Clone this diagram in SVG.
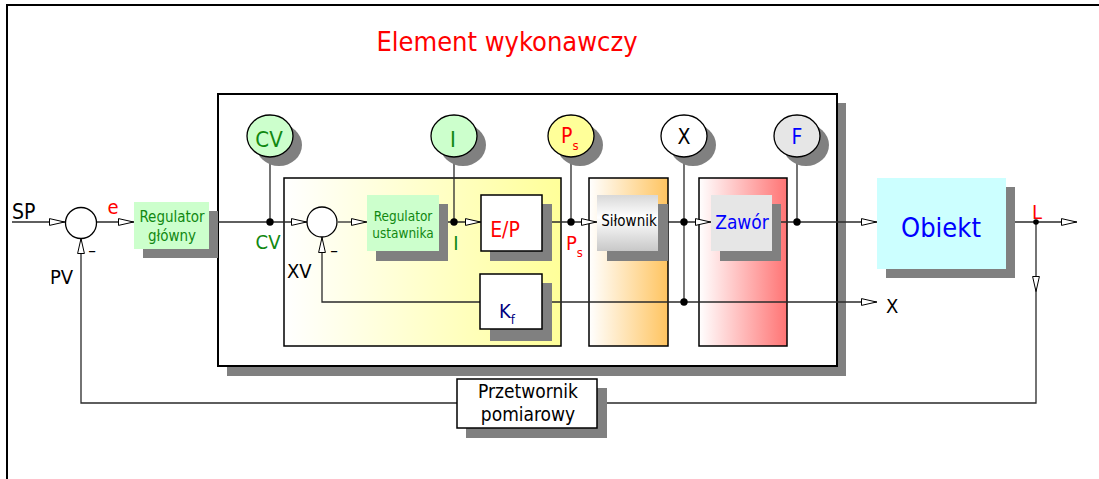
<svg xmlns="http://www.w3.org/2000/svg" width="1099" height="479" viewBox="0 0 1099 479">
  <style>
    text { font-family: "DejaVu Sans Condensed", "DejaVu Sans", sans-serif; }
    .frame { fill: none; stroke: #000; stroke-width: 2; }
    .box { stroke: #000; stroke-width: 1.5; }
    .shadow { fill: #808080; stroke: none; }
    .wire { fill: none; stroke: #2a2a2a; stroke-width: 1.3; }
    .dot { fill: #000; }
    .blk { fill: #000; }
    .red { fill: #ff0000; }
    .grn { fill: #118811; }
    .blu { fill: #0000ff; }
    .navy { fill: #000080; }
    .mid { text-anchor: middle; }
  </style>
  <defs>
    <linearGradient id="gYellow" x1="0" y1="0" x2="1" y2="0">
      <stop offset="0" stop-color="#ffffff"/>
      <stop offset="1" stop-color="#ffff99"/>
    </linearGradient>
    <linearGradient id="gOrange" x1="0" y1="0" x2="1" y2="0">
      <stop offset="0" stop-color="#ffffff"/>
      <stop offset="1" stop-color="#ffc460"/>
    </linearGradient>
    <linearGradient id="gRed" x1="0" y1="0" x2="1" y2="0">
      <stop offset="0" stop-color="#ffffff"/>
      <stop offset="1" stop-color="#ff7474"/>
    </linearGradient>
    <linearGradient id="gGrey" x1="0" y1="0" x2="0" y2="1">
      <stop offset="0" stop-color="#d8d8d8"/>
      <stop offset="0.4" stop-color="#ffffff"/>
      <stop offset="1" stop-color="#c8c8c8"/>
    </linearGradient>
    <marker id="arr" viewBox="0 0 16 8" refX="16" refY="4" markerWidth="16" markerHeight="8" markerUnits="userSpaceOnUse" orient="auto">
      <path d="M0.5,0.6 L15.5,4 L0.5,7.4 Z" fill="#fff" stroke="#000" stroke-width="1"/>
    </marker>
  </defs>

  <!-- page frame -->
  <path class="frame" d="M7,479 V5 H1099"/>

  <!-- title -->
  <text x="507" y="51" font-size="27" class="red mid">Element wykonawczy</text>

  <!-- actuator enclosure -->
  <g id="element-wykonawczy">
    <rect class="shadow" x="227" y="103" width="619" height="273"/>
    <rect x="218" y="94" width="619" height="272" fill="#fff" stroke="#000" stroke-width="2"/>
  </g>

  <!-- sub-assemblies -->
  <g id="pozycjoner">
    <rect class="box" x="284" y="178" width="277" height="168" fill="url(#gYellow)"/>
  </g>
  <g id="silownik-obudowa">
    <rect class="box" x="589" y="178" width="79" height="168" fill="url(#gOrange)"/>
  </g>
  <g id="zawor-obudowa">
    <rect class="box" x="699" y="178" width="88" height="168" fill="url(#gRed)"/>
  </g>

  <!-- connectors -->
  <g id="connectors">
    <path class="wire" d="M12,222 H65" marker-end="url(#arr)"/>
    <path class="wire" d="M97,222 H134" marker-end="url(#arr)"/>
    <path class="wire" d="M210,222 H307" marker-end="url(#arr)"/>
    <path class="wire" d="M270,157 V222"/>
    <path class="wire" d="M338,222 H367" marker-end="url(#arr)"/>
    <path class="wire" d="M440,222 H481" marker-end="url(#arr)"/>
    <path class="wire" d="M454,157 V222"/>
    <path class="wire" d="M543,222 H597" marker-end="url(#arr)"/>
    <path class="wire" d="M571,157 V222"/>
    <path class="wire" d="M660,222 H711" marker-end="url(#arr)"/>
    <path class="wire" d="M684,157 V302"/>
    <path class="wire" d="M773,222 H877" marker-end="url(#arr)"/>
    <path class="wire" d="M797,157 V222"/>
    <path class="wire" d="M1007,222 H1077" marker-end="url(#arr)"/>
    <path class="wire" d="M1036,222 V292" marker-end="url(#arr)"/>
    <path class="wire" d="M1036,292 V403 H600"/>
    <path class="wire" d="M457,403 H81 V238" marker-end="url(#arr)"/>
    <path class="wire" d="M481,302 H322 V237" marker-end="url(#arr)"/>
    <path class="wire" d="M543,302 H877" marker-end="url(#arr)"/>
    <circle class="dot" cx="270" cy="222" r="3.7"/>
    <circle class="dot" cx="454" cy="222" r="3.7"/>
    <circle class="dot" cx="571" cy="222" r="3.7"/>
    <circle class="dot" cx="684" cy="222" r="3.7"/>
    <circle class="dot" cx="684" cy="302" r="3.7"/>
    <circle class="dot" cx="797" cy="222" r="3.7"/>
    <circle class="dot" cx="1036" cy="222" r="2.8"/>
  </g>

  <!-- summing junctions -->
  <g id="sum-glowny">
    <circle cx="81" cy="223" r="15.5" fill="#fff" stroke="#000" stroke-width="1.3"/>
    <text x="92" y="256" font-size="17" class="blk mid">–</text>
  </g>
  <g id="sum-ustawnika">
    <circle cx="322" cy="222" r="15" fill="#fff" stroke="#000" stroke-width="1.3"/>
    <text x="334" y="256" font-size="17" class="blk mid">–</text>
  </g>

  <!-- blocks -->
  <g id="regulator-glowny">
    <rect class="shadow" x="143" y="211" width="75" height="47"/>
    <rect x="134" y="202" width="75" height="47" fill="#ccffcc"/>
    <text x="172" y="222" font-size="15" class="grn mid">Regulator</text>
    <text x="172" y="241" font-size="15" class="grn mid">główny</text>
  </g>
  <g id="regulator-ustawnika">
    <rect class="shadow" x="376" y="204" width="72" height="57"/>
    <rect x="367" y="195" width="72" height="56" fill="#ccffcc"/>
    <text x="403" y="221" font-size="13.5" class="grn mid">Regulator</text>
    <text x="403" y="238" font-size="13.5" class="grn mid">ustawnika</text>
  </g>
  <g id="przetwornik-ep">
    <rect class="shadow" x="490" y="204" width="62" height="57"/>
    <rect class="box" x="481" y="195" width="61" height="56" fill="#fff"/>
    <text x="505" y="237" font-size="21" class="red mid">E/P</text>
  </g>
  <g id="kf">
    <rect class="shadow" x="490" y="283" width="62" height="58"/>
    <rect class="box" x="480" y="274" width="62" height="55" fill="#fff"/>
    <text x="499" y="318" font-size="20" class="navy">K<tspan font-size="13" dy="6">f</tspan></text>
  </g>
  <g id="silownik">
    <rect class="shadow" x="607" y="204" width="61" height="57"/>
    <rect x="597" y="195" width="61" height="56" fill="url(#gGrey)"/>
    <text x="629" y="226" font-size="15" class="blk mid">Siłownik</text>
  </g>
  <g id="zawor">
    <rect class="shadow" x="720" y="204" width="61" height="57"/>
    <rect x="711" y="195" width="61" height="56" fill="#e6e6e6"/>
    <text x="742" y="229" font-size="19" class="blu mid">Zawór</text>
  </g>
  <g id="obiekt">
    <rect class="shadow" x="886" y="187" width="129" height="91"/>
    <rect x="877" y="178" width="129" height="91" fill="#ccffff"/>
    <text x="941" y="237" font-size="27" class="blu mid">Obiekt</text>
  </g>
  <g id="przetwornik-pomiarowy">
    <rect class="shadow" x="466" y="388" width="141" height="50"/>
    <rect class="box" x="457" y="379" width="140" height="49" fill="#fff"/>
    <text x="528" y="398" font-size="19" class="blk mid">Przetwornik</text>
    <text x="528" y="421" font-size="19" class="blk mid">pomiarowy</text>
  </g>

  <!-- measurement points -->
  <g id="pomiar-cv">
    <ellipse class="shadow" cx="279" cy="145" rx="23" ry="21"/>
    <ellipse cx="270" cy="136" rx="23" ry="21" fill="#ccffcc" stroke="#000" stroke-width="1.3"/>
    <text x="269" y="147" font-size="22" class="grn mid">CV</text>
  </g>
  <g id="pomiar-i">
    <ellipse class="shadow" cx="463" cy="145" rx="23" ry="21"/>
    <ellipse cx="454" cy="136" rx="23" ry="21" fill="#ccffcc" stroke="#000" stroke-width="1.3"/>
    <text x="453" y="147" font-size="22" class="grn mid">I</text>
  </g>
  <g id="pomiar-ps">
    <ellipse class="shadow" cx="580" cy="145" rx="23" ry="21"/>
    <ellipse cx="571" cy="136" rx="23" ry="21" fill="#ffff99" stroke="#000" stroke-width="1.3"/>
    <text x="561" y="143" font-size="21" class="red">P<tspan font-size="13" dy="7">s</tspan></text>
  </g>
  <g id="pomiar-x">
    <ellipse class="shadow" cx="693" cy="145" rx="23" ry="21"/>
    <ellipse cx="684" cy="136" rx="23" ry="21" fill="#fff" stroke="#000" stroke-width="1.3"/>
    <text x="684" y="144" font-size="21" class="blk mid">X</text>
  </g>
  <g id="pomiar-f">
    <ellipse class="shadow" cx="806" cy="145" rx="23" ry="21"/>
    <ellipse cx="797" cy="136" rx="23" ry="21" fill="#e6e6e6" stroke="#000" stroke-width="1.3"/>
    <text x="797" y="144" font-size="21" class="blu mid">F</text>
  </g>

  <!-- signal labels -->
  <g id="labels">
    <text x="12" y="219" font-size="21" class="blk">SP</text>
    <text x="113" y="214" font-size="20" class="red mid">e</text>
    <text x="50" y="284" font-size="20" class="blk">PV</text>
    <text x="268" y="249" font-size="20" class="grn mid">CV</text>
    <text x="456" y="250" font-size="20" class="grn mid">I</text>
    <text x="287" y="278" font-size="20" class="blk">XV</text>
    <text x="566" y="250" font-size="20" class="red">P<tspan font-size="13" dy="7">s</tspan></text>
    <text x="1037" y="219" font-size="20" class="red mid">L</text>
    <text x="886" y="313" font-size="20" class="blk">X</text>
  </g>
</svg>
